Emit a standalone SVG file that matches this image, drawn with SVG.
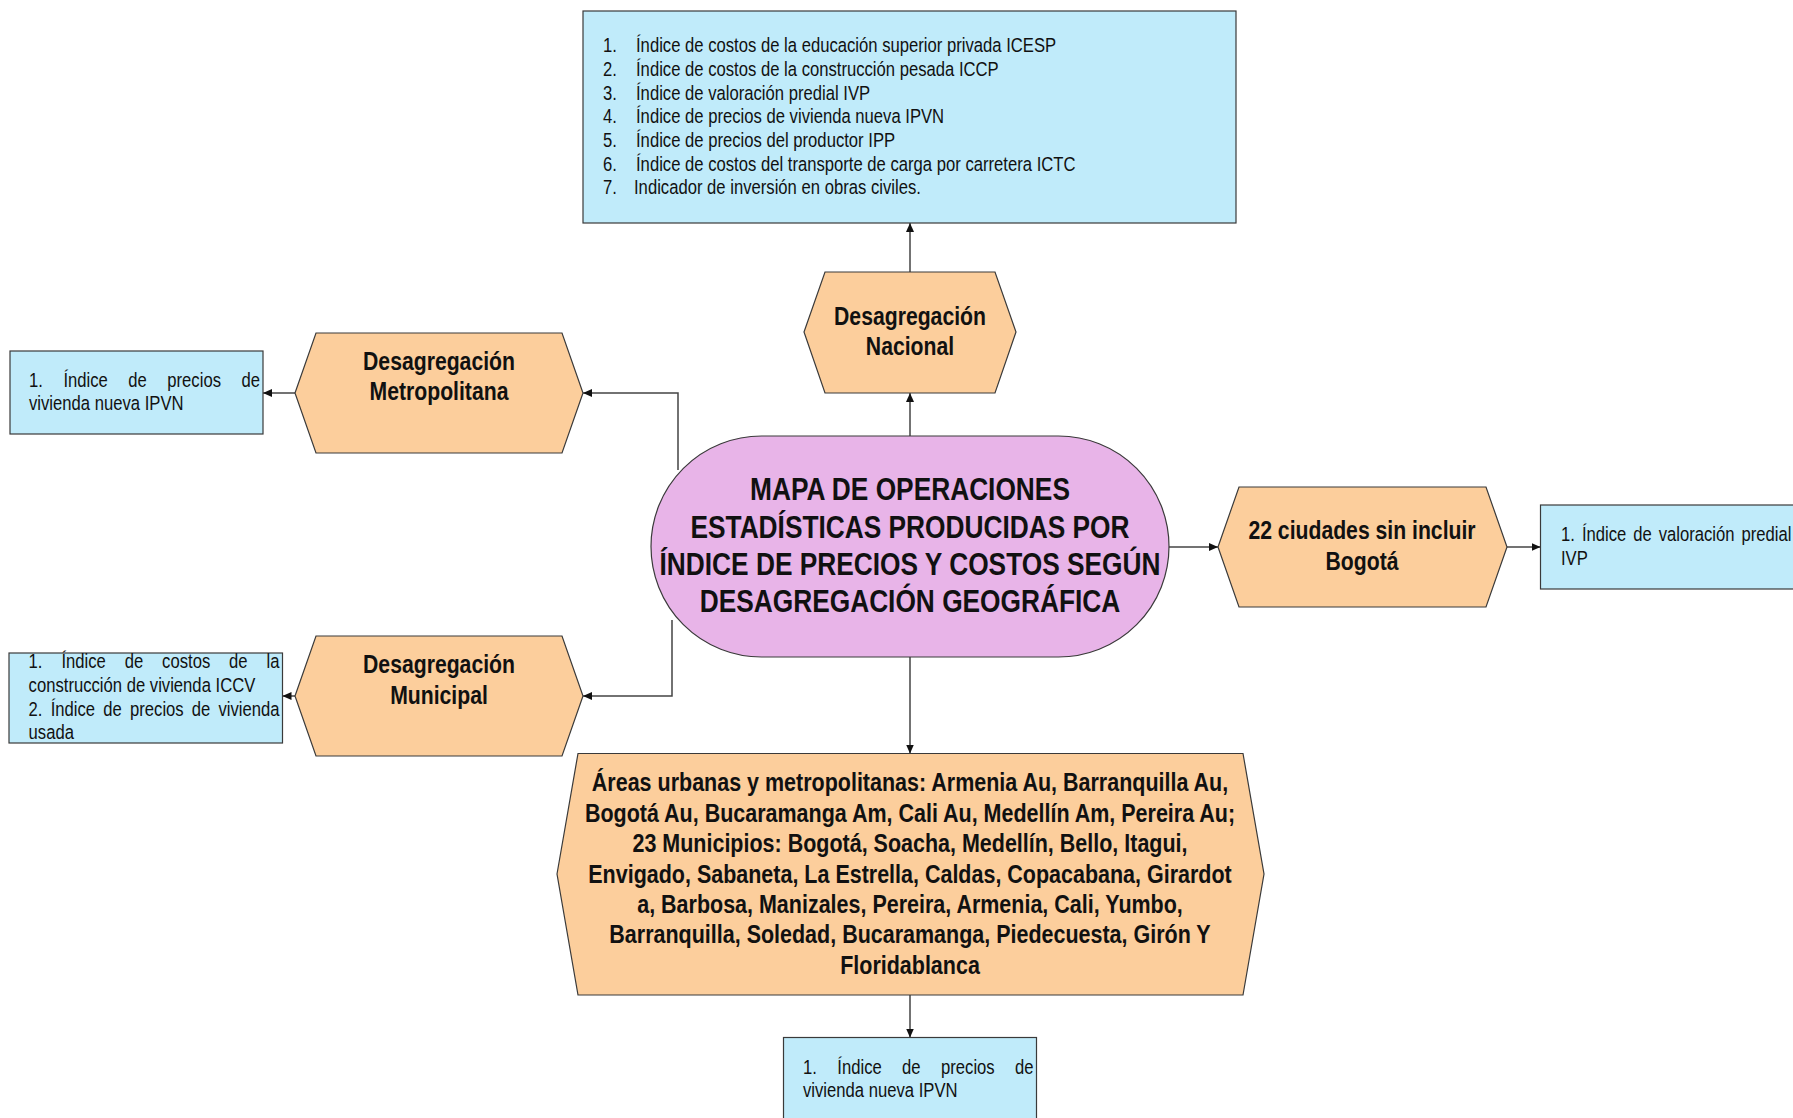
<svg xmlns="http://www.w3.org/2000/svg" width="1793" height="1118" viewBox="0 0 1793 1118">
<style>
  text { font-family: "Liberation Sans", Arial, sans-serif; fill: #111; }
  .bx { fill: #C0EBFA; stroke: #3a3a3a; stroke-width: 1.2; }
  .hx { fill: #FCCE9C; stroke: #3a3a3a; stroke-width: 1.2; }
  .ct { fill: #E8B4E8; stroke: #3a3a3a; stroke-width: 1.2; }
  .t { font-size: 19.5px; }
  .h { font-size: 25px; font-weight: bold; text-anchor: middle; }
  .c { font-size: 31px; font-weight: bold; text-anchor: middle; }
  .e { text-anchor: end; }
  .con { fill: none; stroke: #444; stroke-width: 1.5; marker-end: url(#arr); }
</style>
<defs>
  <marker id="arr" markerWidth="9" markerHeight="8" refX="9" refY="4" orient="auto" markerUnits="userSpaceOnUse">
    <path d="M0,0 L9,4 L0,8 z" fill="#111"/>
  </marker>
</defs>
<rect width="1793" height="1118" fill="#fff"/>

<g id="connectors">
  <path class="con" d="M910,436 V393"/>
  <path class="con" d="M910,272 V223"/>
  <path class="con" d="M678,470 V393 H583"/>
  <path class="con" d="M672,620 V696 H583"/>
  <path class="con" d="M295,393 H263"/>
  <path class="con" d="M295,696 H282.5"/>
  <path class="con" d="M1169,547 H1218"/>
  <path class="con" d="M1507,547 H1540.5"/>
  <path class="con" d="M910,657 V753.5"/>
  <path class="con" d="M910,995 V1037.5"/>
</g>

<g id="center">
  <rect class="ct" x="651" y="436" width="518" height="221" rx="110.5" ry="110.5"/>
  <text class="c" transform="translate(910,500) scale(.848,1)">MAPA DE OPERACIONES</text>
  <text class="c" transform="translate(910,538) scale(.848,1)">ESTADÍSTICAS PRODUCIDAS POR</text>
  <text class="c" transform="translate(910,575) scale(.848,1)">ÍNDICE DE PRECIOS Y COSTOS SEGÚN</text>
  <text class="c" transform="translate(910,612) scale(.848,1)">DESAGREGACIÓN GEOGRÁFICA</text>
</g>

<g id="nacional">
  <polygon class="hx" points="804,332 825,272 995,272 1016,332 995,393 825,393"/>
  <text class="h" transform="translate(910,325) scale(.848,1)">Desagregación</text>
  <text class="h" transform="translate(910,355) scale(.848,1)">Nacional</text>
</g>

<g id="nacional-list">
  <rect class="bx" x="583" y="11" width="653" height="212"/>
  <text class="t" transform="translate(603,52) scale(.854,1)">1.</text><text class="t" transform="translate(636,52) scale(.854,1)">Índice de costos de la educación superior privada ICESP</text>
  <text class="t" transform="translate(603,76) scale(.854,1)">2.</text><text class="t" transform="translate(636,76) scale(.854,1)">Índice de costos de la construcción pesada ICCP</text>
  <text class="t" transform="translate(603,100) scale(.854,1)">3.</text><text class="t" transform="translate(636,100) scale(.854,1)">Índice de valoración predial IVP</text>
  <text class="t" transform="translate(603,123) scale(.854,1)">4.</text><text class="t" transform="translate(636,123) scale(.854,1)">Índice de precios de vivienda nueva IPVN</text>
  <text class="t" transform="translate(603,147) scale(.854,1)">5.</text><text class="t" transform="translate(636,147) scale(.854,1)">Índice de precios del productor IPP</text>
  <text class="t" transform="translate(603,171) scale(.854,1)">6.</text><text class="t" transform="translate(636,171) scale(.854,1)">Índice de costos del transporte de carga por carretera ICTC</text>
  <text class="t" transform="translate(603,194) scale(.854,1)">7.</text><text class="t" transform="translate(634,194) scale(.854,1)">Indicador de inversión en obras civiles.</text>
</g>

<g id="metropolitana">
  <polygon class="hx" points="295,393 316,333 562,333 583,393 562,453 316,453"/>
  <text class="h" transform="translate(439,370) scale(.848,1)">Desagregación</text>
  <text class="h" transform="translate(439,400) scale(.848,1)">Metropolitana</text>
</g>

<g id="metropolitana-list">
  <rect class="bx" x="10" y="351" width="253" height="83"/>
  <text class="t" transform="translate(29,387) scale(.854,1)">1.</text>
  <text class="t" transform="translate(63.4,387) scale(.854,1)">Índice</text>
  <text class="t" transform="translate(128.3,387) scale(.854,1)">de</text>
  <text class="t" transform="translate(167.3,387) scale(.854,1)">precios</text>
  <text class="t e" transform="translate(260,387) scale(.854,1)">de</text>
  <text class="t" transform="translate(29,410) scale(.854,1)">vivienda nueva IPVN</text>
</g>

<g id="municipal">
  <polygon class="hx" points="295,696 316,636 562,636 583,696 562,756 316,756"/>
  <text class="h" transform="translate(439,673) scale(.848,1)">Desagregación</text>
  <text class="h" transform="translate(439,704) scale(.848,1)">Municipal</text>
</g>

<g id="municipal-list">
  <rect class="bx" x="9" y="653" width="273.5" height="90"/>
  <text class="t" transform="translate(28.6,668) scale(.854,1)">1.</text>
  <text class="t" transform="translate(61.4,668) scale(.854,1)">Índice</text>
  <text class="t" transform="translate(124.7,668) scale(.854,1)">de</text>
  <text class="t" transform="translate(162.1,668) scale(.854,1)">costos</text>
  <text class="t" transform="translate(229.1,668) scale(.854,1)">de</text>
  <text class="t e" transform="translate(279.5,668) scale(.854,1)">la</text>
  <text class="t" transform="translate(28.6,692) scale(.854,1)">construcción de vivienda ICCV</text>
  <text class="t" transform="translate(28.6,716) scale(.854,1)">2.</text>
  <text class="t" transform="translate(50.7,716) scale(.854,1)">Índice</text>
  <text class="t" transform="translate(103.3,716) scale(.854,1)">de</text>
  <text class="t" transform="translate(130,716) scale(.854,1)">precios</text>
  <text class="t" transform="translate(191.8,716) scale(.854,1)">de</text>
  <text class="t e" transform="translate(279.5,716) scale(.854,1)">vivienda</text>
  <text class="t" transform="translate(28.6,739) scale(.854,1)">usada</text>
</g>

<g id="ciudades">
  <polygon class="hx" points="1218,547 1239,487 1486,487 1507,547 1486,607 1239,607"/>
  <text class="h" transform="translate(1362,539) scale(.848,1)">22 ciudades sin incluir</text>
  <text class="h" transform="translate(1362,570) scale(.848,1)">Bogotá</text>
</g>

<g id="ciudades-list">
  <rect class="bx" x="1540.5" y="505" width="270" height="84"/>
  <text class="t" transform="translate(1561,541) scale(.854,1)">1.</text>
  <text class="t" transform="translate(1581.9,541) scale(.854,1)">Índice</text>
  <text class="t" transform="translate(1633.2,541) scale(.854,1)">de</text>
  <text class="t" transform="translate(1658.7,541) scale(.854,1)">valoración</text>
  <text class="t e" transform="translate(1791.5,541) scale(.854,1)">predial</text>
  <text class="t" transform="translate(1561,565) scale(.854,1)">IVP</text>
</g>

<g id="areas">
  <polygon class="hx" points="557,874 578,753.5 1243,753.5 1264,874 1243,995 578,995"/>
  <text class="h" transform="translate(910,791) scale(.86,1)">Áreas urbanas y metropolitanas: Armenia Au, Barranquilla Au,</text>
  <text class="h" transform="translate(910,821.5) scale(.86,1)">Bogotá Au, Bucaramanga Am, Cali Au, Medellín Am, Pereira Au;</text>
  <text class="h" transform="translate(910,852) scale(.86,1)">23 Municipios: Bogotá, Soacha, Medellín, Bello, Itagui,</text>
  <text class="h" transform="translate(910,882.5) scale(.86,1)">Envigado, Sabaneta, La Estrella, Caldas, Copacabana, Girardot</text>
  <text class="h" transform="translate(910,913) scale(.86,1)">a, Barbosa, Manizales, Pereira, Armenia, Cali, Yumbo,</text>
  <text class="h" transform="translate(910,943) scale(.86,1)">Barranquilla, Soledad, Bucaramanga, Piedecuesta, Girón Y</text>
  <text class="h" transform="translate(910,973.5) scale(.86,1)">Floridablanca</text>
</g>

<g id="areas-list">
  <rect class="bx" x="783.5" y="1037.5" width="253" height="90"/>
  <text class="t" transform="translate(803,1074) scale(.854,1)">1.</text>
  <text class="t" transform="translate(837.3,1074) scale(.854,1)">Índice</text>
  <text class="t" transform="translate(902.1,1074) scale(.854,1)">de</text>
  <text class="t" transform="translate(941,1074) scale(.854,1)">precios</text>
  <text class="t e" transform="translate(1033.5,1074) scale(.854,1)">de</text>
  <text class="t" transform="translate(803,1097) scale(.854,1)">vivienda nueva IPVN</text>
</g>
</svg>
